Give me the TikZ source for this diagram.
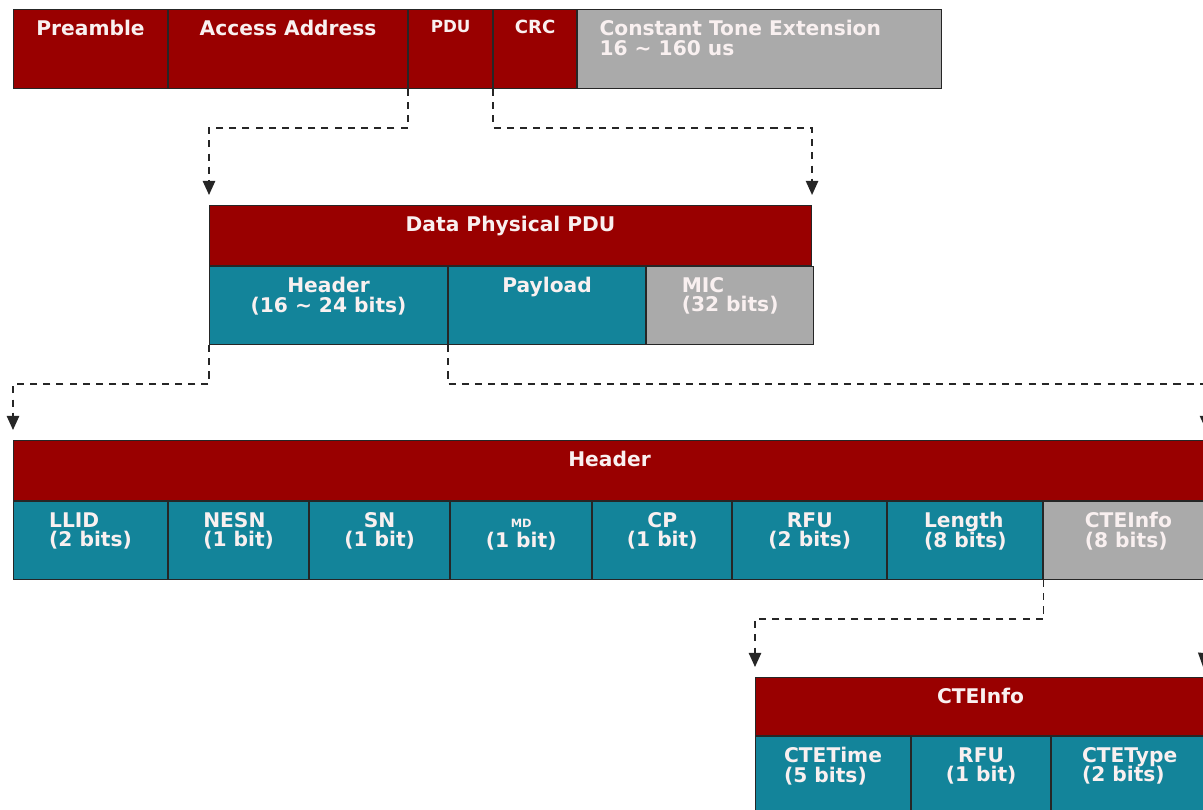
\documentclass[tikz,border=0pt]{standalone}
\usepackage{fontspec}
\setmainfont{DejaVu Sans}
\usetikzlibrary{positioning,arrows.meta}

\definecolor{pdured}{HTML}{990000}
\definecolor{pduteal}{HTML}{13849A}
\definecolor{pdugrey}{HTML}{AAAAAA}
\definecolor{pduline}{HTML}{262626}

\newcommand{\pdufont}[1]{\fontsize{#1}{11}\selectfont\bfseries\lineskiplimit=-6pt\relax}

\tikzset{
	field/.style={draw=pduline, line width=0.6pt, inner sep=0pt, anchor=north west, minimum height=1.56cm},
	redfield/.style={field, fill=pdured},
	tealfield/.style={field, fill=pduteal},
	greyfield/.style={field, fill=pdugrey},
	titlefield/.style={redfield, minimum height=1.2cm},
	txt/.style={anchor=north, inner sep=0pt, label distance=-0.22cm, text=white!94!pdured, align=center, font=\pdufont{11.5}},
	ltxt/.style={txt, align=left},
	link/.style={draw=pduline, line width=0.9pt, dash pattern=on 4pt off 3.5pt, -{Triangle[width=7pt,length=8pt]}}
}

\begin{document}
\begin{tikzpicture}
		\useasboundingbox (0,0) rectangle (24.06,-16.18);
		\clip (0,0) rectangle (24.06,-16.18);

		\draw (0.26,-0.18) node[redfield, minimum width=3.08cm, minimum height=1.58cm, label={[txt]north:Preamble}] (preamble) {};
		\node[redfield, minimum width=4.78cm, minimum height=1.58cm, right=0pt of preamble, label={[txt]north:Access Address}] (access) {};
		\node[redfield, minimum width=1.68cm, minimum height=1.58cm, right=0pt of access, label={[txt, font=\pdufont{9.5}]north:PDU}] (pdu) {};
		\node[redfield, minimum width=1.66cm, minimum height=1.58cm, right=0pt of pdu, label={[txt, font=\pdufont{10.3}]north:CRC}] (crc) {};
		\node[greyfield, minimum width=7.28cm, minimum height=1.58cm, right=0pt of crc, label={[ltxt, anchor=north west, label distance=0pt, xshift=0.44cm, yshift=-0.22cm]north west:Constant Tone Extension\\16 \textasciitilde{} 160 us}] (cte) {};

		\draw (4.18,-4.10) node[titlefield, minimum width=12.04cm, label={[txt]north:Data Physical PDU}] (dpdu) {};
		\node[tealfield, minimum width=4.76cm] at (dpdu.south west) [label={[txt]north:Header\\(16 \textasciitilde{} 24 bits)}] (hdr) {};
		\node[tealfield, minimum width=3.94cm, right=0pt of hdr, label={[txt]north:Payload}] (payload) {};
		\node[greyfield, minimum width=3.34cm, right=0pt of payload, label={[ltxt]north:MIC\\(32 bits)}] (mic) {};

		\draw[link] (pdu.south west) -- ++(0,-0.78) -| ([yshift=0.2cm]dpdu.north west);
		\draw[link] (crc.south west) -- ++(0,-0.78) -| ([yshift=0.2cm]dpdu.north east);

		\draw (0.26,-8.80) node[titlefield, minimum width=23.84cm, label={[txt]north:Header}] (hdrbox) {};
		\node[tealfield, minimum width=3.08cm] at (hdrbox.south west) [label={[ltxt]north:LLID\\(2 bits)}] (llid) {};
		\node[tealfield, minimum width=2.80cm, right=0pt of llid, label={[ltxt]north:NESN\\(1 bit)}] (nesn) {};
		\node[tealfield, minimum width=2.80cm, right=0pt of nesn, label={[txt]north:SN\\(1 bit)}] (sn) {};
		\node[tealfield, minimum width=2.82cm, right=0pt of sn, label={[txt]north:\rule{0pt}{8.7pt}{\fontsize{6.5}{6.5}\selectfont MD}\\(1 bit)}] (md) {};
		\node[tealfield, minimum width=2.78cm, right=0pt of md, label={[txt]north:CP\\(1 bit)}] (cp) {};
		\node[tealfield, minimum width=3.08cm, right=0pt of cp, label={[txt]north:RFU\\(2 bits)}] (rfu) {};
		\node[tealfield, minimum width=3.10cm, right=0pt of rfu, label={[ltxt]north:Len\smash{g}th\\(8 bits)}] (length) {};
		\node[greyfield, minimum width=3.38cm, right=0pt of length, label={[ltxt]north:CTEInfo\\(8 bits)}] (cteinfo) {};

		\draw[link] (hdr.south west) -- ++(0,-0.78) -| ([yshift=0.2cm]hdrbox.north west);
		\draw[link] (payload.south west) -- ++(0,-0.78) -| ([yshift=0.2cm]hdrbox.north east);

		\draw (15.10,-13.54) node[titlefield, minimum width=9.0cm, minimum height=1.16cm, label={[txt]north:CTEInfo}] (ctebox) {};
		\node[tealfield, minimum width=3.10cm] at (ctebox.south west) [label={[ltxt]north:CTETime\\(5 bits)}] (ctetime) {};
		\node[tealfield, minimum width=2.78cm, right=0pt of ctetime, label={[txt]north:RFU\\(1 bit)}] (rfu2) {};
		\node[tealfield, minimum width=3.12cm, right=0pt of rfu2, label={[ltxt]north:CTEType\\(2 bits)}] (ctetype) {};

		\draw[link] (cteinfo.south west) -- ++(0,-0.78) -| ([yshift=0.2cm]ctebox.north west);
		\draw[link] ([xshift=-0.06cm]cteinfo.south east) -- ([xshift=-0.06cm, yshift=0.2cm]ctebox.north east);

	\end{tikzpicture}
\end{document}
